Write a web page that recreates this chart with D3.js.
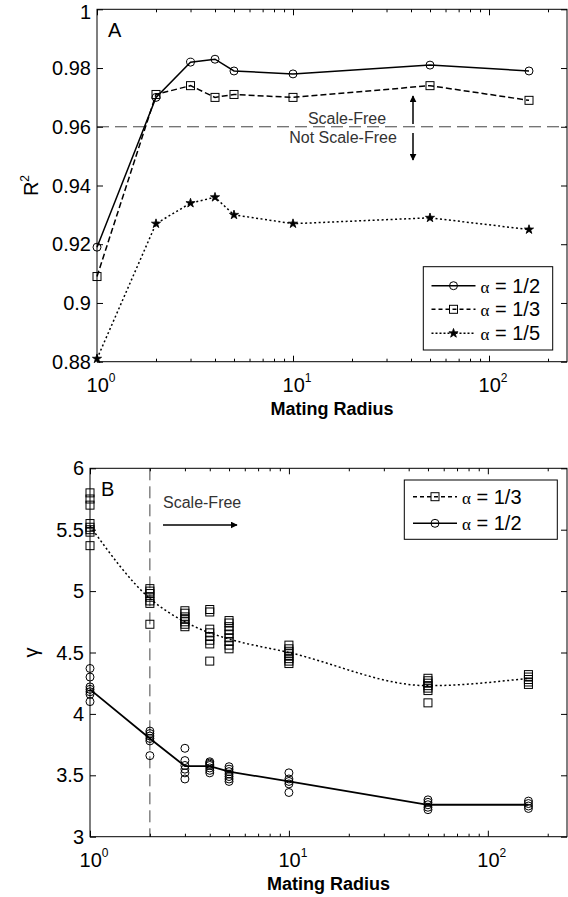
<!DOCTYPE html>
<html>
<head>
<meta charset="utf-8">
<script src="https://cdn.jsdelivr.net/npm/d3@7"></script>
<style>
body { margin: 0; background: #fff; }
svg { display: block; font-family: "Liberation Sans", Arial, sans-serif; }
</style>
</head>
<body>
<div id="chart"></div>
<script>
const width = 568, height = 897;

// mating radius values (x) shared by both panels
const radius = [1, 2, 3, 4, 5, 10, 50, 160];

// panel A: R^2 of the power-law fit
const r2Half  = [0.919, 0.970, 0.982, 0.983, 0.979, 0.978, 0.981, 0.979];
const r2Third = [0.909, 0.971, 0.974, 0.970, 0.971, 0.970, 0.974, 0.969];
const r2Fifth = [0.881, 0.927, 0.934, 0.936, 0.930, 0.927, 0.929, 0.925];
const r2Ticks = [0.88, 0.9, 0.92, 0.94, 0.96, 0.98, 1];

// panel B: exponent gamma, one list of runs per radius
const gammaThird = [
	[5.80, 5.75, 5.70, 5.55, 5.52, 5.50, 5.48, 5.37],
	[5.02, 5.00, 4.98, 4.95, 4.92, 4.90, 4.73],
	[4.84, 4.82, 4.79, 4.77, 4.75, 4.73, 4.71],
	[4.85, 4.83, 4.69, 4.66, 4.63, 4.60, 4.57, 4.43],
	[4.76, 4.74, 4.71, 4.68, 4.65, 4.62, 4.59, 4.56, 4.53],
	[4.56, 4.53, 4.51, 4.49, 4.47, 4.45, 4.43, 4.41],
	[4.29, 4.27, 4.25, 4.23, 4.21, 4.19, 4.09],
	[4.32, 4.30, 4.28, 4.26, 4.24]
];
const gammaThirdFit = [5.53, 4.94, 4.75, 4.66, 4.61, 4.50, 4.23, 4.29];

const gammaHalf = [
	[4.37, 4.30, 4.22, 4.20, 4.18, 4.16, 4.10],
	[3.86, 3.84, 3.82, 3.80, 3.78, 3.66],
	[3.72, 3.62, 3.58, 3.55, 3.52, 3.47],
	[3.61, 3.60, 3.59, 3.58, 3.56, 3.54, 3.52],
	[3.57, 3.55, 3.53, 3.51, 3.49, 3.47, 3.45],
	[3.52, 3.47, 3.45, 3.43, 3.36],
	[3.30, 3.28, 3.26, 3.24, 3.22],
	[3.29, 3.27, 3.25, 3.23]
];
const gammaHalfMean = [4.20, 3.80, 3.575, 3.575, 3.53, 3.45, 3.26, 3.26];
const gammaTicks = [3, 3.5, 4, 4.5, 5, 5.5, 6];

const xMajor = [1, 10, 100];
const xMinor = [2, 3, 4, 5, 6, 7, 8, 9, 20, 30, 40, 50, 60, 70, 80, 90, 200];

const svg = d3.select("#chart")
	.append("svg")
	.attr("width", width)
	.attr("height", height);

svg.append("defs").append("marker")
	.attr("id", "head")
	.attr("viewBox", "0 0 10 10")
	.attr("refX", 9).attr("refY", 5)
	.attr("markerWidth", 7).attr("markerHeight", 7)
	.attr("markerUnits", "userSpaceOnUse")
	.attr("orient", "auto")
	.append("path")
	.attr("d", "M0,0 L10,5 L0,10 Z")
	.attr("fill", "#000");

// frame, inward ticks on all four sides, labels
function drawAxes(x, y, yTicks, yTitle, yTitleSup, panelLabel) {
	const [x0, x1] = x.range(), [y0, y1] = y.range();
	const g = svg.append("g");

	const sides = [
		[d3.axisBottom(x), y0, true], [d3.axisTop(x), y1, true],
		[d3.axisLeft(y), x0, false], [d3.axisRight(y), x1, false]
	];
	sides.forEach(([ax, pos, isX]) => {
		const t = isX ? `translate(0,${pos})` : `translate(${pos},0)`;
		if (isX) {
			g.append("g").attr("transform", t)
				.call(ax.tickValues(xMinor).tickSize(-3).tickSizeOuter(0).tickFormat(""));
			g.append("g").attr("transform", t)
				.call(ax.tickValues(xMajor).tickSize(-6).tickSizeOuter(0).tickFormat(""));
		} else {
			g.append("g").attr("transform", t)
				.call(ax.tickValues(yTicks).tickSize(-6).tickSizeOuter(0).tickFormat(""));
		}
	});
	g.selectAll(".domain").remove();
	g.selectAll(".tick line").attr("stroke", "#000");

	g.append("rect")
		.attr("x", x0).attr("y", y1)
		.attr("width", x1 - x0).attr("height", y0 - y1)
		.attr("fill", "none").attr("stroke", "#000");

	// y tick labels (top one nudged down so it stays on the page)
	g.selectAll(".ylab")
		.data(yTicks)
		.enter()
		.append("text")
		.attr("x", x0 - 6)
		.attr("y", d => Math.max(y(d) + 7, 19))
		.attr("text-anchor", "end")
		.attr("font-size", 20)
		.text(d => String(+d.toFixed(2)));

	// x tick labels 10^n
	const xl = g.selectAll(".xlab")
		.data(xMajor)
		.enter()
		.append("text")
		.attr("x", d => x(d) + 4)
		.attr("y", y0 + 30)
		.attr("text-anchor", "middle")
		.attr("font-size", 20);
	xl.append("tspan").text("10");
	xl.append("tspan").attr("dy", -10).attr("font-size", 12).text(d => Math.round(Math.log10(d)));

	g.append("text")
		.attr("x", (x0 + x1) / 2)
		.attr("y", y0 + 53)
		.attr("text-anchor", "middle")
		.attr("font-size", 18)
		.attr("font-weight", "bold")
		.text("Mating Radius");

	const yt = g.append("text")
		.attr("transform", `translate(38,${(y0 + y1) / 2}) rotate(-90)`)
		.attr("text-anchor", "middle")
		.attr("font-size", 20);
	yt.append("tspan").text(yTitle);
	if (yTitleSup) yt.append("tspan").attr("dy", -9).attr("font-size", 12).text(yTitleSup);

	g.append("text")
		.attr("x", x0 + 11)
		.attr("y", y1 + 28)
		.attr("font-size", 20)
		.text(panelLabel);
}

function lineOf(x, y, vals, curve) {
	return d3.line()
		.x((d, i) => x(radius[i]))
		.y(d => y(d))
		.curve(curve || d3.curveLinear)(vals);
}

function circleMarks(g, pts) {
	g.selectAll(null).data(pts).enter().append("circle")
		.attr("cx", d => d[0]).attr("cy", d => d[1]).attr("r", 4)
		.attr("fill", "none").attr("stroke", "#000").attr("stroke-width", 1);
}
function squareMarks(g, pts) {
	g.selectAll(null).data(pts).enter().append("rect")
		.attr("x", d => d[0] - 4).attr("y", d => d[1] - 4)
		.attr("width", 8).attr("height", 8)
		.attr("fill", "none").attr("stroke", "#000").attr("stroke-width", 1);
}
function starMarks(g, pts) {
	g.selectAll(null).data(pts).enter().append("path")
		.attr("transform", d => `translate(${d[0]},${d[1]})`)
		.attr("d", d3.symbol(d3.symbolStar, 26))
		.attr("fill", "#000").attr("stroke", "#000").attr("stroke-width", 0.8);
}

// ---------- panel A ----------
const xA = d3.scaleLog().domain([1, 250]).range([97, 567]);
const yA = d3.scaleLinear().domain([0.88, 1]).range([361.7, 9.3]);

const layerA = svg.append("g");

layerA.append("line")
	.attr("x1", xA.range()[0]).attr("x2", xA.range()[1])
	.attr("y1", yA(0.96)).attr("y2", yA(0.96))
	.attr("stroke", "#444").attr("stroke-dasharray", "12,6");

const seriesA = [
	{ vals: r2Fifth, dash: "2,2.5", mark: starMarks },
	{ vals: r2Third, dash: "6,3", mark: squareMarks },
	{ vals: r2Half, dash: null, mark: circleMarks }
];
seriesA.forEach(s => {
	layerA.append("path")
		.attr("d", lineOf(xA, yA, s.vals))
		.attr("fill", "none").attr("stroke", "#000").attr("stroke-width", 1.5)
		.attr("stroke-dasharray", s.dash);
	s.mark(layerA, s.vals.map((v, i) => [xA(radius[i]), yA(v)]));
});

layerA.append("text").attr("x", 347).attr("y", 124)
	.attr("text-anchor", "middle").attr("font-size", 16).attr("fill", "#333").text("Scale-Free");
layerA.append("text").attr("x", 343).attr("y", 143)
	.attr("text-anchor", "middle").attr("font-size", 16).attr("fill", "#333").text("Not Scale-Free");
layerA.append("line").attr("x1", 413).attr("x2", 413).attr("y1", 124).attr("y2", 96)
	.attr("stroke", "#000").attr("stroke-width", 1.5).attr("marker-end", "url(#head)");
layerA.append("line").attr("x1", 413).attr("x2", 413).attr("y1", 133).attr("y2", 160)
	.attr("stroke", "#000").attr("stroke-width", 1.5).attr("marker-end", "url(#head)");

drawAxes(xA, yA, r2Ticks, "R", "2", "A");

// ---------- panel B ----------
const xB = d3.scaleLog().domain([1, 250]).range([90, 567]);
const yB = d3.scaleLinear().domain([3, 6]).range([836.7, 468.3]);

const layerB = svg.append("g");

layerB.append("line")
	.attr("x1", xB(2)).attr("x2", xB(2))
	.attr("y1", yB.range()[1]).attr("y2", yB.range()[0])
	.attr("stroke", "#444").attr("stroke-dasharray", "12,6");

squareMarks(layerB, gammaThird.flatMap((runs, i) => runs.map(v => [xB(radius[i]), yB(v)])));
layerB.append("path")
	.attr("d", lineOf(xB, yB, gammaThirdFit, d3.curveMonotoneX))
	.attr("fill", "none").attr("stroke", "#000").attr("stroke-width", 1.5)
	.attr("stroke-dasharray", "2,2.5");

circleMarks(layerB, gammaHalf.flatMap((runs, i) => runs.map(v => [xB(radius[i]), yB(v)])));
layerB.append("path")
	.attr("d", lineOf(xB, yB, gammaHalfMean))
	.attr("fill", "none").attr("stroke", "#000").attr("stroke-width", 1.8);

layerB.append("text").attr("x", 163).attr("y", 508)
	.attr("font-size", 16).attr("fill", "#333").text("Scale-Free");
layerB.append("line").attr("x1", 163).attr("x2", 237).attr("y1", 525).attr("y2", 525)
	.attr("stroke", "#000").attr("stroke-width", 1.5).attr("marker-end", "url(#head)");

drawAxes(xB, yB, gammaTicks, "γ", null, "B");

// ---------- legends ----------
function legend(box, rows) {
	const g = svg.append("g");
	g.append("rect")
		.attr("x", box[0]).attr("y", box[1])
		.attr("width", box[2] - box[0]).attr("height", box[3] - box[1])
		.attr("fill", "#fff").attr("stroke", "#000");
	rows.forEach(r => {
		g.append("line")
			.attr("x1", r.x0).attr("x2", r.x0 + 44)
			.attr("y1", r.y).attr("y2", r.y)
			.attr("stroke", "#000").attr("stroke-width", 1.5)
			.attr("stroke-dasharray", r.dash);
		r.mark(g, [[r.x0 + 22, r.y]]);
		const t = g.append("text")
			.attr("x", r.x0 + 49).attr("y", r.y + 7)
			.attr("font-size", 20);
		t.append("tspan").attr("font-family", "'Liberation Serif', serif").attr("font-size", 17).text("α");
		t.append("tspan").text(" = " + r.label);
	});
}

legend([423.3, 266.7, 552.7, 350], [
	{ y: 285.7, x0: 431.5, dash: null, mark: circleMarks, label: "1/2" },
	{ y: 309.3, x0: 431.5, dash: "4,3", mark: squareMarks, label: "1/3" },
	{ y: 333.3, x0: 431.5, dash: "2,2", mark: starMarks, label: "1/5" }
]);
legend([404.3, 480, 557.3, 539.3], [
	{ y: 496.7, x0: 413, dash: "4,3", mark: squareMarks, label: "1/3" },
	{ y: 523.3, x0: 413, dash: null, mark: circleMarks, label: "1/2" }
]);
</script>
</body>
</html>
